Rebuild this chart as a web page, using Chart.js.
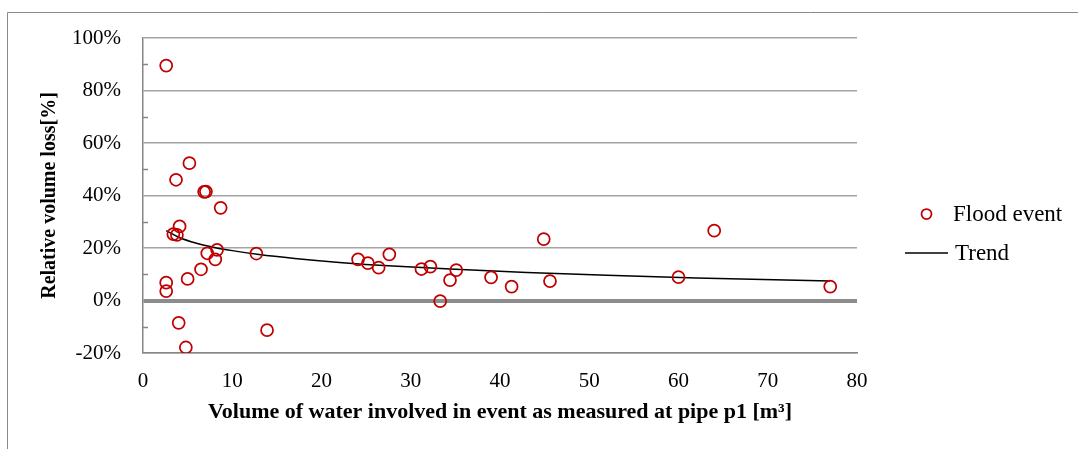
<!DOCTYPE html>
<html>
<head>
<meta charset="utf-8">
<script src="https://cdn.jsdelivr.net/npm/chart.js@4/dist/chart.umd.min.js"></script>
<style>
  html, body { margin:0; padding:0; background:#fff; }
  canvas { display:block; }
</style>
</head>
<body>
<canvas id="c" width="1078" height="449"></canvas>
<script>
// flood events: volume at pipe p1 [m3] vs relative volume loss [%]
var eventVolume = [2.6, 3.7, 5.2, 6.85, 7.05, 8.7, 4.1, 3.4, 3.8, 2.6, 2.6, 5.0, 6.5, 7.2, 8.3, 8.1,
  12.7, 4.0, 4.8, 13.9, 24.1, 25.2, 26.4, 27.6, 31.2, 32.2, 35.1, 34.4, 33.3, 39.0, 41.3, 44.9,
  45.6, 60.0, 64.0, 77.0];
var eventLoss = [89.5, 46.0, 52.3, 41.4, 41.5, 35.3, 28.2, 25.3, 25.0, 6.8, 3.6, 8.2, 11.9, 18.0, 19.3, 15.7,
  17.9, -8.5, -17.9, -11.3, 15.7, 14.2, 12.5, 17.6, 12.0, 12.9, 11.6, 7.8, -0.2, 8.8, 5.3, 23.4,
  7.4, 8.9, 26.6, 5.3];

// trend curve
var trendVolume = [2.6, 4, 6, 8, 10, 13, 17, 22, 28, 35, 43, 52, 62, 77];
var trendLoss = [26.6, 24.1, 21.8, 20.2, 19.0, 17.5, 16.0, 14.5, 13.1, 11.9, 10.7, 9.6, 8.6, 7.4];

var xTicks = [0, 10, 20, 30, 40, 50, 60, 70, 80];
var yTicks = [-20, 0, 20, 40, 60, 80, 100];
var yMinorTicks = [-10, 10, 30, 50, 70, 90];

var RED = '#c00000';
var SERIF = "'Liberation Serif', 'Times New Roman', serif";

function pts(xs, ys) {
  return xs.map(function(x, i) { return { x: x, y: ys[i] }; });
}

var framePlugin = {
  id: 'frame',
  beforeDraw: function(chart) {
    var ctx = chart.ctx;
    ctx.save();
    ctx.fillStyle = '#fff';
    ctx.fillRect(0, 0, chart.width, chart.height);
    ctx.strokeStyle = '#8a8a8a';
    ctx.lineWidth = 1;
    ctx.beginPath();
    ctx.moveTo(7.5, chart.height);
    ctx.lineTo(7.5, 12.5);
    ctx.lineTo(chart.width, 12.5);
    ctx.stroke();
    ctx.restore();
  },
  afterDraw: function(chart) {
    var ctx = chart.ctx;
    var ys = chart.scales.y;
    var left = chart.chartArea.left;
    ctx.save();
    ctx.strokeStyle = '#868686';
    ctx.lineWidth = 1.5;
    yMinorTicks.forEach(function(v) {
      var py = Math.round(ys.getPixelForValue(v)) + 0.5;
      ctx.beginPath();
      ctx.moveTo(left, py);
      ctx.lineTo(left + 5, py);
      ctx.stroke();
    });

    // legend
    var ds = chart.data.datasets;
    ctx.font = '23px ' + SERIF;
    ctx.fillStyle = '#000';
    ctx.textBaseline = 'middle';
    ctx.textAlign = 'left';
    ctx.strokeStyle = RED;
    ctx.lineWidth = 1.75;
    ctx.beginPath();
    ctx.arc(926.5, 214, 5, 0, Math.PI * 2);
    ctx.stroke();
    ctx.fillText(ds[0].label, 953, 215);
    ctx.strokeStyle = '#000';
    ctx.lineWidth = 1.5;
    ctx.beginPath();
    ctx.moveTo(905, 253);
    ctx.lineTo(948, 253);
    ctx.stroke();
    ctx.fillText(ds[1].label, 955, 254);
    ctx.restore();
  }
};

new Chart(document.getElementById('c'), {
  type: 'scatter',
  data: {
    datasets: [
      {
        label: 'Flood event',
        data: pts(eventVolume, eventLoss),
        borderColor: RED,
        backgroundColor: 'rgba(0,0,0,0)',
        borderWidth: 1.75,
        pointRadius: 6,
        pointHoverRadius: 6
      },
      {
        label: 'Trend',
        type: 'line',
        data: pts(trendVolume, trendLoss),
        borderColor: '#000',
        borderWidth: 1.5,
        pointRadius: 0,
        fill: false,
        cubicInterpolationMode: 'monotone'
      }
    ]
  },
  options: {
    responsive: false,
    animation: false,
    events: [],
    layout: { padding: { left: 0, right: 221, top: 38, bottom: 23 } },
    plugins: { legend: { display: false }, tooltip: { enabled: false } },
    scales: {
      x: {
        type: 'linear',
        min: 0, max: 80,
        afterFit: function(s) { s.height = 73; },
        afterBuildTicks: function(s) { s.ticks = xTicks.map(function(v) { return { value: v }; }); },
        grid: { display: false, drawTicks: false },
        border: { display: true, color: '#868686', width: 1.5 },
        ticks: { color: '#000', padding: 16, font: { family: SERIF, size: 21 } },
        title: {
          display: true,
          text: 'Volume of water involved in event as measured at pipe p1 [m\u00b3]',
          color: '#000',
          padding: { top: 0, bottom: 0 },
          font: { family: SERIF, size: 22, weight: 'bold' }
        }
      },
      y: {
        min: -20, max: 100,
        afterFit: function(s) { s.width = 143; },
        afterBuildTicks: function(s) { s.ticks = yTicks.map(function(v) { return { value: v }; }); },
        grid: {
          drawTicks: false,
          color: function(c) { return c.tick && c.tick.value === 0 ? '#8c8c8c' : '#a3a3a3'; },
          lineWidth: function(c) { return c.tick && c.tick.value === 0 ? 4 : 1.5; }
        },
        border: { display: true, color: '#868686', width: 1.5 },
        ticks: {
          color: '#000', padding: 22,
          font: { family: SERIF, size: 21 },
          callback: function(v) { return v + '%'; }
        },
        title: {
          display: true,
          text: 'Relative volume loss[%]',
          color: '#000',
          padding: { top: 38, bottom: 0 },
          font: { family: SERIF, size: 20, weight: 'bold' }
        }
      }
    }
  },
  plugins: [framePlugin]
});
</script>
</body>
</html>
